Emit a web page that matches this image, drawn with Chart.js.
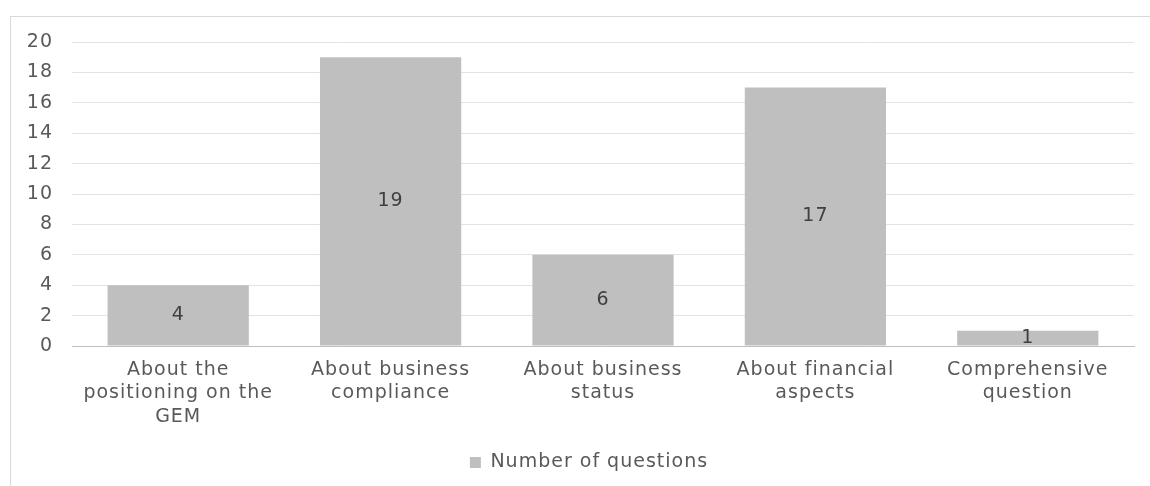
<!DOCTYPE html>
<html><head><meta charset="utf-8">
<script src="https://cdn.jsdelivr.net/npm/chart.js@4.4.1/dist/chart.umd.min.js"></script>
<style>
html,body{margin:0;padding:0;background:#fff;overflow:hidden;width:1150px;height:486px;}
#frame{position:absolute;left:10px;top:16px;width:1200px;height:600px;border:1px solid #d9d9d9;box-sizing:border-box;}
#wrap{position:absolute;left:0;top:0;width:1150px;height:486px;}
</style></head>
<body>
<div id="frame"></div>
<div id="wrap"><canvas id="c" width="1150" height="486"></canvas></div>
<script>
const categories = [
  ["About the", "positioning on the", "GEM"],
  ["About business", "compliance"],
  ["About business", "status"],
  ["About financial", "aspects"],
  ["Comprehensive", "question"]
];
const seriesName = "Number of questions";
const values = [4, 19, 6, 17, 1];
const yTicks = [0, 2, 4, 6, 8, 10, 12, 14, 16, 18, 20];

const FONT = "'DejaVu Sans', sans-serif";
const FS = 19;

const spacing = {
  id: 'spacing',
  beforeUpdate(chart) { chart.ctx.letterSpacing = '1px'; },
  beforeLayout(chart) { chart.ctx.letterSpacing = '1px'; },
  afterLayout(chart) {
    if (chart.legend) { chart.legend.left += 22; chart.legend.right += 22; }
  },
  beforeDraw(chart) { chart.ctx.letterSpacing = '1px'; }
};

const barLabels = {
  id: 'barLabels',
  afterDatasetsDraw(chart) {
    const ctx = chart.ctx;
    const meta = chart.getDatasetMeta(0);
    ctx.save();
    ctx.font = FS + "px " + FONT;
    ctx.fillStyle = "#404040";
    ctx.textAlign = "center";
    ctx.textBaseline = "middle";
    meta.data.forEach((bar, i) => {
      const p = bar.getProps(['x', 'y', 'base'], true);
      ctx.fillText(String(values[i]), p.x, (p.y + p.base) / 2);
    });
    ctx.restore();
  }
};

new Chart(document.getElementById('c'), {
  type: 'bar',
  data: {
    labels: categories,
    datasets: [{
      label: seriesName,
      data: values,
      backgroundColor: '#bfbfbf',
      borderWidth: 0,
      categoryPercentage: 1.0,
      barPercentage: 0.665
    }]
  },
  options: {
    responsive: false,
    animation: false,
    devicePixelRatio: 1,
    layout: { padding: { left: 0, top: 42, right: 16, bottom: 4 } },
    plugins: {
      tooltip: { enabled: false },
      legend: {
        position: 'bottom',
        labels: {
          boxWidth: 11, boxHeight: 11,
          color: '#595959',
          font: { family: FONT, size: FS },
          padding: 10
        }
      }
    },
    scales: {
      y: {
        min: 0, max: 20,
        afterBuildTicks(scale) { scale.ticks = yTicks.map(v => ({ value: v })); },
        afterFit(scale) { scale.width = 72; },
        ticks: { color: '#595959', font: { family: FONT, size: FS }, padding: 19 },
        grid: { color: '#e3e3e3', drawTicks: false, lineWidth: 1 },
        border: { display: false }
      },
      x: {
        afterFit(scale) { scale.height = 97; },
        ticks: { color: '#595959', font: { family: FONT, size: FS, lineHeight: 1.24 }, padding: 12, maxRotation: 0, autoSkip: false },
        grid: { display: false, drawTicks: false },
        border: { display: true, color: '#bfbfbf', width: 1 }
      }
    }
  },
  plugins: [spacing, barLabels]
});
</script>
</body></html>
